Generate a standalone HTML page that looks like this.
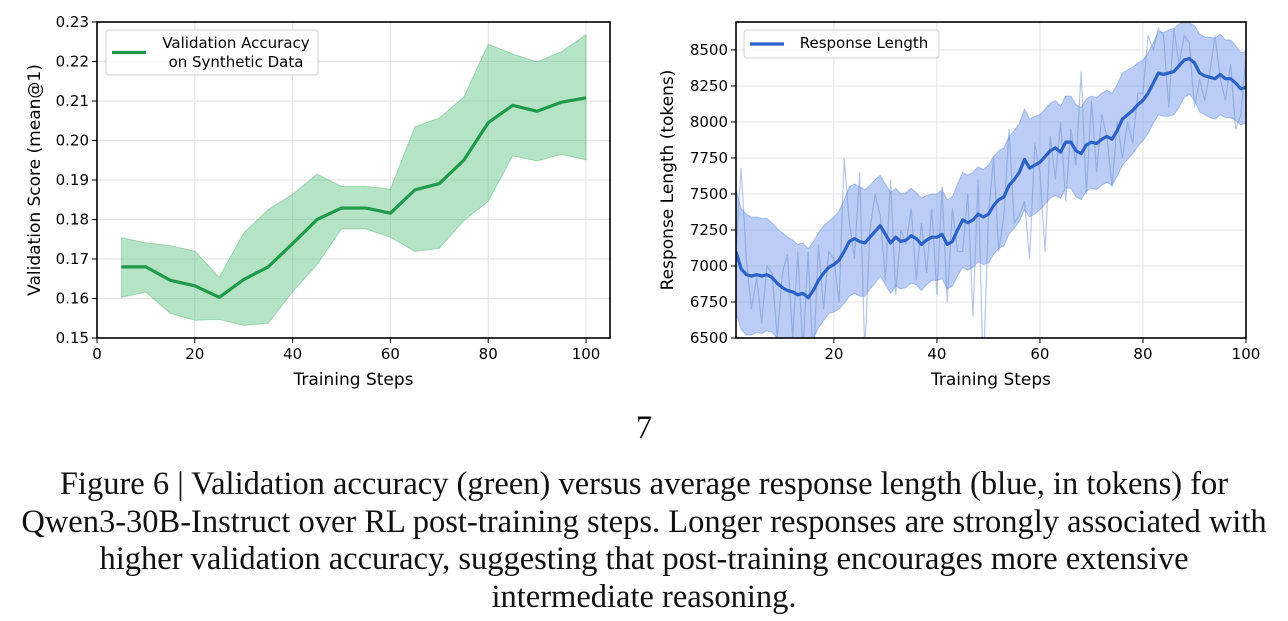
<!DOCTYPE html>
<html><head><meta charset="utf-8"><style>
body{margin:0;background:#fff;width:1288px;height:621px;overflow:hidden;position:relative}
svg{position:absolute;left:0;top:0}
.cap{position:absolute;left:0;width:1288px;text-align:center;font-family:"Liberation Serif",serif;font-size:32.5px;color:#111;line-height:37.5px;white-space:nowrap}
</style></head><body>
<svg id="chart" width="1288" height="400" font-family="DejaVu Sans, sans-serif"></svg>
<div class="cap" style="top:410px">7</div>
<div class="cap" style="top:466px">Figure 6 | Validation accuracy (green) versus average response length (blue, in tokens) for<br>Qwen3-30B-Instruct over RL post-training steps. Longer responses are strongly associated with<br>higher validation accuracy, suggesting that post-training encourages more extensive<br>intermediate reasoning.</div>
<script>
const accSteps=[5,10,15,20,25,30,35,40,45,50,55,60,65,70,75,80,85,90,95,100];
const accMean=[0.168,0.168,0.1646,0.1632,0.1603,0.1648,0.168,0.1739,0.180,0.1829,0.1829,0.1816,0.1875,0.1891,0.195,0.2045,0.2089,0.2074,0.2097,0.2108];
const accUpper=[0.1754,0.1741,0.1734,0.172,0.1654,0.1766,0.1825,0.1864,0.1915,0.1884,0.1884,0.1877,0.2035,0.2057,0.211,0.2244,0.2219,0.2199,0.2225,0.2268];
const accLower=[0.1603,0.1616,0.1562,0.1545,0.1547,0.1532,0.1537,0.1617,0.1686,0.1776,0.1776,0.1755,0.1719,0.1727,0.1797,0.1846,0.1961,0.1948,0.1965,0.1951];
const accXTicks=[0,20,40,60,80,100];
const accYTicks=[0.15,0.16,0.17,0.18,0.19,0.20,0.21,0.22,0.23];
const lenMean=[7100,6980,6940,6930,6940,6930,6940,6920,6880,6850,6830,6820,6800,6810,6780,6830,6900,6950,6990,7010,7040,7100,7170,7190,7170,7160,7200,7240,7280,7220,7160,7200,7170,7180,7210,7190,7150,7180,7200,7200,7220,7150,7170,7250,7320,7300,7320,7360,7340,7360,7420,7460,7480,7560,7600,7650,7740,7680,7700,7720,7760,7800,7820,7790,7860,7860,7800,7780,7840,7860,7850,7880,7900,7880,7940,8020,8050,8080,8120,8150,8200,8270,8340,8330,8340,8350,8390,8430,8440,8410,8340,8320,8310,8300,8330,8300,8300,8270,8230,8240];
const lenStd=[430,420,420,410,400,400,390,380,380,380,370,360,350,350,340,340,330,330,320,330,340,360,380,380,380,370,360,360,350,350,350,340,330,330,330,320,320,310,300,300,310,310,310,320,330,330,330,330,330,340,340,340,340,340,340,340,350,340,340,330,330,330,330,320,320,320,320,320,320,320,320,320,320,320,320,320,310,300,290,280,280,280,290,290,300,300,290,260,250,260,270,270,280,280,280,270,270,260,250,250];
const lenRaw=[7100,7680,7050,6700,6920,6600,7000,6950,6500,6950,7080,6500,7100,6400,7100,6300,7150,6700,7100,7050,6750,7750,7300,7050,7650,6400,7250,7500,7350,6900,7600,6800,7250,7150,7400,6900,7300,6950,7400,6800,7550,6750,7400,7100,7100,7500,6650,7600,6250,7350,7750,7100,7350,7950,7300,7350,7450,7050,7850,7650,7100,7900,7600,8000,7450,7950,7700,8350,7500,8150,7650,8050,7900,7550,8000,7750,8000,7850,8200,8200,8600,8500,8650,8600,8100,8650,8400,8600,8550,8100,8300,8150,8350,8600,8300,8150,8400,7950,8050,8450];
const lenXTicks=[20,40,60,80,100];
const lenYTicks=[6500,6750,7000,7250,7500,7750,8000,8250,8500];

const svg=document.getElementById('chart');const NS='http://www.w3.org/2000/svg';
function mk(t,a,p){const e=document.createElementNS(NS,t);for(const k in a)e.setAttribute(k,a[k]);(p||svg).appendChild(e);return e;}
function panel(o){
  const g=mk('g',{});
  
  
  const sx=v=>o.L+(v-o.x0)/(o.x1-o.x0)*(o.R-o.L), sy=v=>o.B-(v-o.y0)/(o.y1-o.y0)*(o.B-o.T);
  o.xt.forEach(v=>{mk('line',{x1:sx(v),x2:sx(v),y1:o.T,y2:o.B,stroke:'#e2e2e2','stroke-width':1},g);
    mk('line',{x1:sx(v),x2:sx(v),y1:o.B,y2:o.B+5,stroke:'#000'},g);
    const t=mk('text',{x:sx(v),y:o.B+21,'text-anchor':'middle','font-size':15},g);t.textContent=v;
    });
  o.yt.forEach(v=>{mk('line',{x1:o.L,x2:o.R,y1:sy(v),y2:sy(v),stroke:'#e2e2e2','stroke-width':1},g);
    mk('line',{x1:o.L-5,x2:o.L,y1:sy(v),y2:sy(v),stroke:'#000'},g);
    const t=mk('text',{x:o.L-8,y:sy(v)+5,'text-anchor':'end','font-size':15},g);t.textContent=o.yf(v);
    });
  let up=o.xs.map((x,i)=>sx(x)+','+sy(o.up[i])),lo=o.xs.map((x,i)=>sx(x)+','+sy(o.lo[i])).reverse();
  const cp=mk('clipPath',{id:o.name+'c'},g);mk('rect',{x:o.L,y:o.T,width:o.R-o.L,height:o.B-o.T},cp);
  const d=mk('g',{'clip-path':'url(#'+o.name+'c)'},g);
  const band=mk('polygon',{points:up.concat(lo).join(' '),fill:o.fill,'fill-opacity':o.fo,stroke:o.col,'stroke-opacity':0.3},d);
  
  if(o.raw){const r=mk('polyline',{points:o.xs.map((x,i)=>sx(x)+','+sy(o.raw[i])).join(' '),fill:'none',stroke:'#6f8fcf','stroke-opacity':0.5,'stroke-width':1.2},d);
    }
  const ml=mk('polyline',{points:o.xs.map((x,i)=>sx(x)+','+sy(o.m[i])).join(' '),fill:'none',stroke:o.col,'stroke-width':3.2,'stroke-linejoin':'round'},d);
  
  mk('rect',{x:o.L,y:o.T,width:o.R-o.L,height:o.B-o.T,fill:'none',stroke:'#000','stroke-width':1.6},g);
  const xl=mk('text',{x:(o.L+o.R)/2,y:o.B+47,'text-anchor':'middle','font-size':17},g);xl.textContent='Training Steps';
  
  const yl=mk('text',{x:0,y:0,'text-anchor':'middle','font-size':17,transform:`translate(${o.ylx},${(o.T+o.B)/2}) rotate(-90)`},g);yl.textContent=o.ylab;
  
  const lg=mk('g',{},g);
  mk('rect',{x:o.lg[0],y:o.lg[1],width:o.lg[2],height:o.lg[3],rx:3,fill:'#fff','fill-opacity':0.85,stroke:'#d0d0d0'},lg);
  mk('line',{x1:o.lg[0]+6,x2:o.lg[0]+40,y1:o.lg[1]+o.lg[3]/2,y2:o.lg[1]+o.lg[3]/2,stroke:o.col,'stroke-width':3.2},lg);
  o.lt.forEach((s,i)=>{const t=mk('text',{x:o.ltx,y:o.lg[1]+18+i*19,'text-anchor':'middle','font-size':15},lg);t.textContent=s;});
}
panel({name:'accuracy-chart',L:97,R:610,T:22,B:338,x0:0,x1:104.9,y0:0.15,y1:0.23,xt:accXTicks,yt:accYTicks,yf:v=>v.toFixed(2),
  xs:accSteps,m:accMean,up:accUpper,lo:accLower,col:'#1e9a4a',fill:'#5cc07e',fo:0.45,ylab:'Validation Score (mean@1)',ylx:40,
  lg:[106,30,212,45],lt:['Validation Accuracy','on Synthetic Data'],ltx:236});
const lenSteps=lenMean.map((_,i)=>i+1);
panel({name:'response-length-chart',L:736,R:1246,T:22,B:338,x0:1,x1:100,y0:6500,y1:8694,xt:lenXTicks,yt:lenYTicks,yf:v=>v,
  xs:lenSteps,m:lenMean,up:lenMean.map((v,i)=>v+lenStd[i]),lo:lenMean.map((v,i)=>v-lenStd[i]),raw:lenRaw,col:'#2a62c8',fill:'#7899ee',fo:0.5,
  ylab:'Response Length (tokens)',ylx:673,lg:[744,30,195,28],lt:['Response Length'],ltx:864});
</script>
</body></html>
